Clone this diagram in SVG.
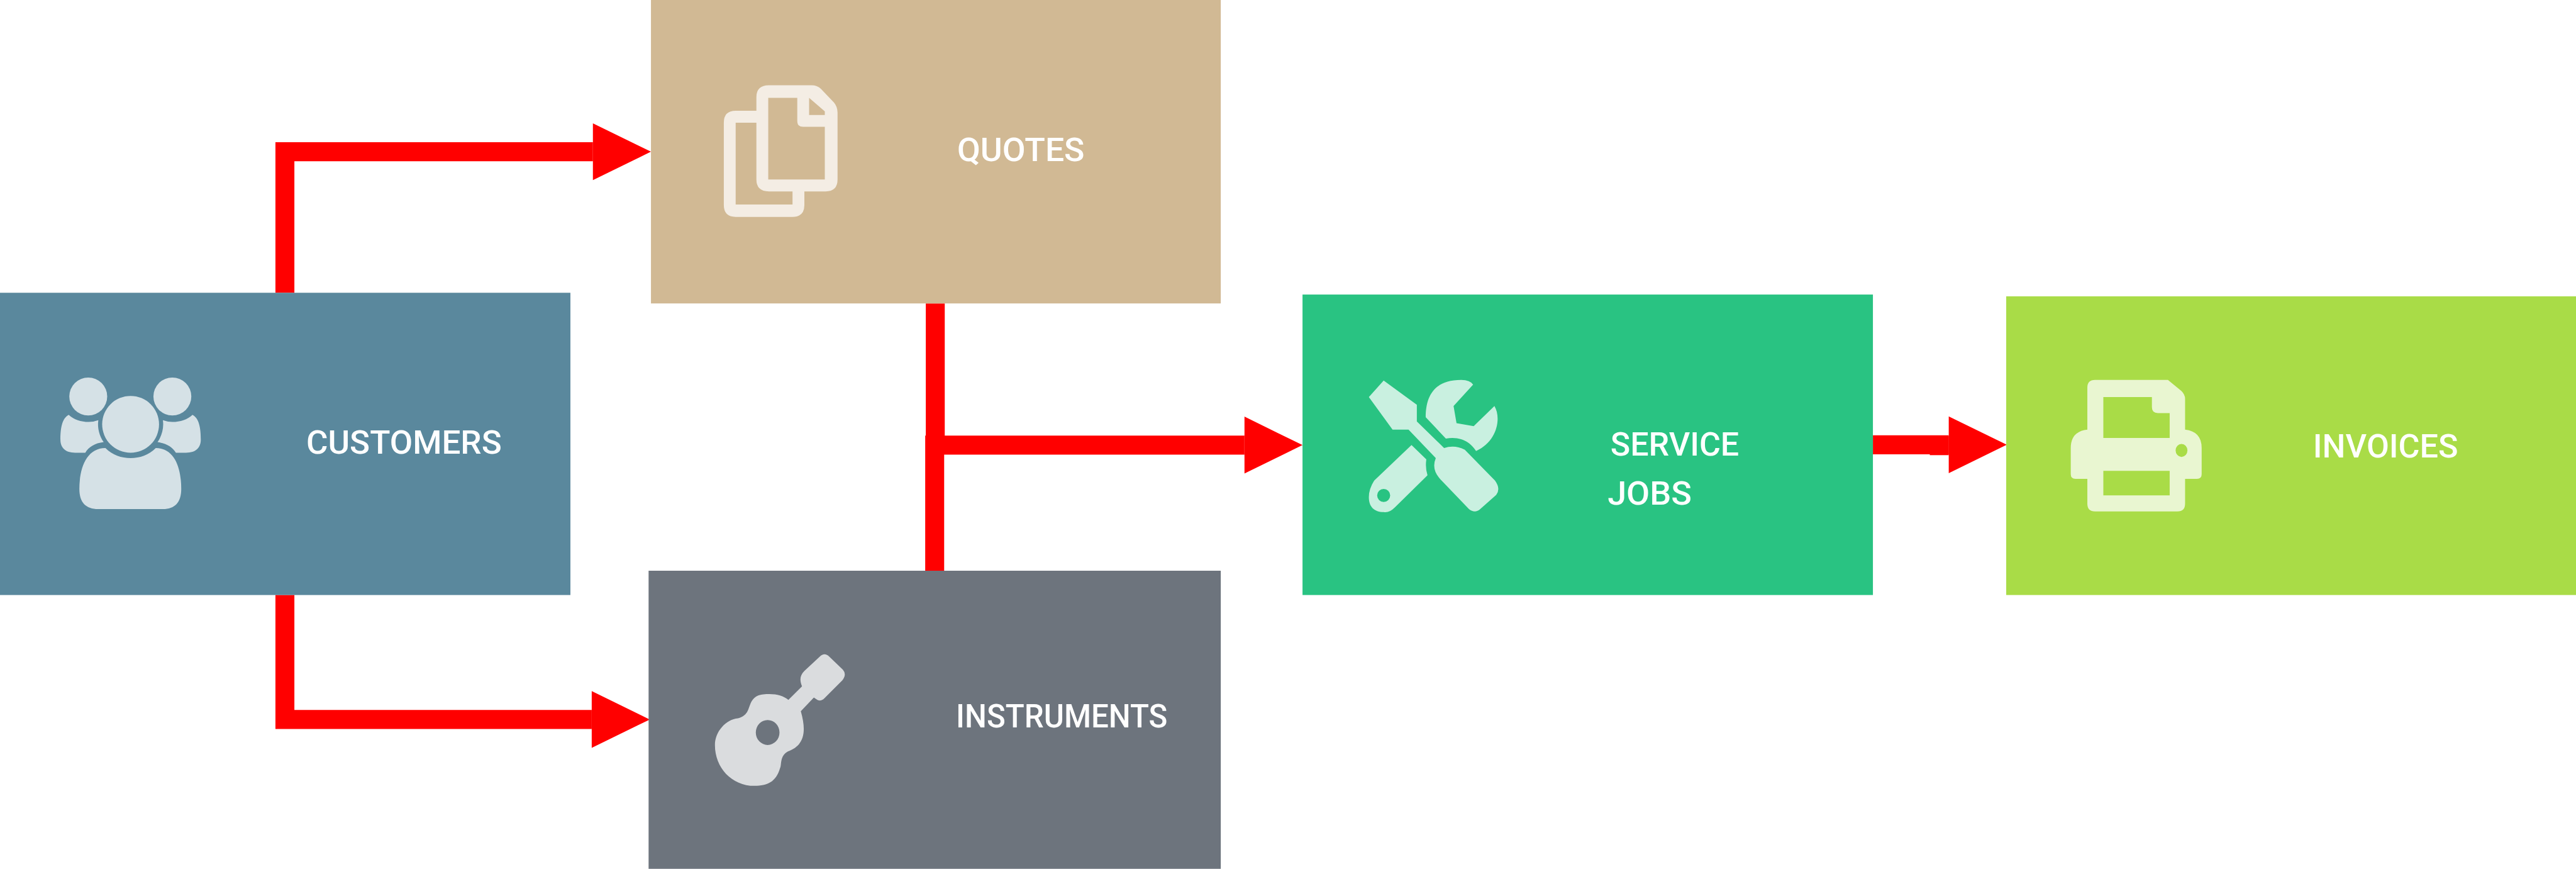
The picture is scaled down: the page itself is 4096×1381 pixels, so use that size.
<svg xmlns="http://www.w3.org/2000/svg" width="4096" height="1381" viewBox="0 0 4096 1381">
<defs>
<style>
.box{stroke:none}
.icon{fill:#fff;fill-opacity:.75;fill-rule:evenodd}
.lbl{font-family:"Roboto","Liberation Sans",sans-serif;font-size:55px;font-weight:500;fill:#fff}
.con{fill:none;stroke:#f00;stroke-width:32;stroke-linejoin:miter}
</style>
<marker id="arrow" markerUnits="userSpaceOnUse" markerWidth="98" markerHeight="96" viewBox="0 0 98 96" refX="0" refY="48" orient="auto" overflow="visible"><polygon points="0,0 98,48 0,96" fill="#f00"/></marker>
</defs>
<rect width="4096" height="1381" fill="#fff"/>
<g transform="scale(0.94183)">
<g id="connectors">
<path class="con" marker-end="url(#arrow)" d="M481,494 V256 H1001"/>
<path class="con" marker-end="url(#arrow)" d="M481,1004 V1214 H999"/>
<path class="con" marker-end="url(#arrow)" d="M1579,512 V751 H2101"/>
<path class="con" d="M1578,963 V735"/>
<path class="con" marker-end="url(#arrow)" d="M3162,750.5 H3290"/>
<path class="con" d="M3258,752 H3290"/>
</g>
<g id="customers">
<rect class="box" x="0" y="494" width="963" height="510" fill="#5a889d"/>
<g class="icon">
<circle cx="149" cy="669" r="32"/><circle cx="291" cy="669" r="32"/><circle cx="220.5" cy="716" r="48"/>
<path d="M178,756 C190,768 205,773 220.5,773 C236,773 251,768 263,756 C295,756 306,790 306,825 C306,848 295,859 275,859 L166,859 C145,859 134,848 134,825 C134,790 146,756 178,756 Z"/>
<path d="M116,700 C125,708 136,712 150,712 Q158,712 166,709 C164,722 168,736 175,746 C160,748 150,754 144,764 L127,764 C110,764 102,755 102,742 C102,725 104,706 116,700 Z"/>
<path d="M325,700 C316,708 305,712 291,712 Q283,712 275,709 C277,722 273,736 266,746 C281,748 291,754 297,764 L314,764 C331,764 339,755 339,742 C339,725 337,706 325,700 Z"/>
</g>
<text class="lbl" x="517" y="766" textLength="330" lengthAdjust="spacingAndGlyphs">CUSTOMERS</text>
</g>
<g id="quotes">
<rect class="box" x="1099" y="0" width="962" height="512" fill="#d1b994"/>
<path class="icon" d="M1298,144 H1370 Q1380,144 1386,150 L1408,173 Q1414,180 1414,190 V303 Q1414,323 1394,323 H1358 V346 Q1358,366 1338,366 H1242 Q1222,366 1222,346 V207 Q1222,187 1242,187 H1277 V164 Q1277,144 1298,144 Z M1297,165 V303 H1392.5 V214 H1356 Q1346,214 1346,204 V165 Z M1366,165 V194 H1392.5 V188 Z M1242,207 V345 H1338 V323 H1298 Q1277,323 1277,303 V207 Z"/>
<text class="lbl" x="1616" y="272" textLength="215" lengthAdjust="spacingAndGlyphs">QUOTES</text>
</g>
<g id="instruments">
<rect class="box" x="1095" y="963" width="966" height="503" fill="#6d747d"/>
<path class="icon" d="M1384,1108 Q1392,1100 1400,1108 L1423,1130 Q1430,1138 1422,1148 L1392,1178 Q1386,1184 1380,1181 L1374,1177 L1352,1200 C1362,1235 1358,1258 1330,1268 C1316,1276 1320,1290 1317,1296 C1310,1320 1295,1326 1274,1326 C1235,1326 1207,1295 1207,1257 C1207,1235 1225,1214 1246,1212 C1262,1208 1263,1197 1266,1190 C1272,1172 1285,1171 1299,1171 C1312,1171 1323,1174 1331,1181 L1354,1158 C1350,1148 1350,1140 1358,1132 Z M1316,1236 A20,21 0 1 0 1276,1236 A20,21 0 1 0 1316,1236 Z"/>
<text class="lbl" x="1614" y="1227" textLength="357" lengthAdjust="spacingAndGlyphs">INSTRUMENTS</text>
</g>
<g id="service-jobs">
<rect class="box" x="2199" y="497" width="963" height="507" fill="#29c382"/>
<g class="icon">
<path d="M2336,642 L2392,683 V711 L2438,756 Q2456,750 2473,759 L2524,811 Q2534,825 2526,835 L2499,859 Q2490,867 2480,859 L2432,809 Q2416,792 2424,773 L2378,725 H2351 L2311,670 Z"/>
<path d="M2467,641 Q2482,641 2487,649 L2454,685 L2459,714 L2488,719 L2523,685 C2535,705 2528,745 2492,761 C2485,750 2470,735 2441,740 L2407,704 C2407,670 2420,641 2467,641 Z"/>
<path d="M2383,751 L2408,775 Q2406,790 2410,802 L2355,856 Q2345,866 2336,864 C2320,864 2311,855 2311,839 Q2311,825 2320,811 Z M2347,836 A11,11 0 1 0 2325,836 A11,11 0 1 0 2347,836 Z"/>
</g>
<text class="lbl" x="2719" y="769" textLength="217" lengthAdjust="spacingAndGlyphs">SERVICE</text>
<text class="lbl" x="2714" y="852" textLength="142" lengthAdjust="spacingAndGlyphs">JOBS</text>
</g>
<g id="invoices">
<rect class="box" x="3387" y="500" width="962" height="504" fill="#a9dc47"/>
<path class="icon" d="M3537,641 H3660 L3683,660 Q3689,666 3689,673 V725 Q3717,728 3717,756 V800 Q3717,808 3709,808 H3689 V850 Q3689,863 3676,863 H3537 Q3524,863 3524,850 V808 H3504 Q3496,808 3496,800 V756 Q3496,728 3524,725 V654 Q3524,641 3537,641 Z M3551,670 V739 H3663 V697 H3643 Q3633,697 3633,687 V670 Z M3551,794.5 V836 H3663 V794.5 Z M3693,760 A10,11 0 1 0 3673,760 A10,11 0 1 0 3693,760 Z"/>
<text class="lbl" x="3905" y="772" textLength="245" lengthAdjust="spacingAndGlyphs">INVOICES</text>
</g>
</g>
</svg>
